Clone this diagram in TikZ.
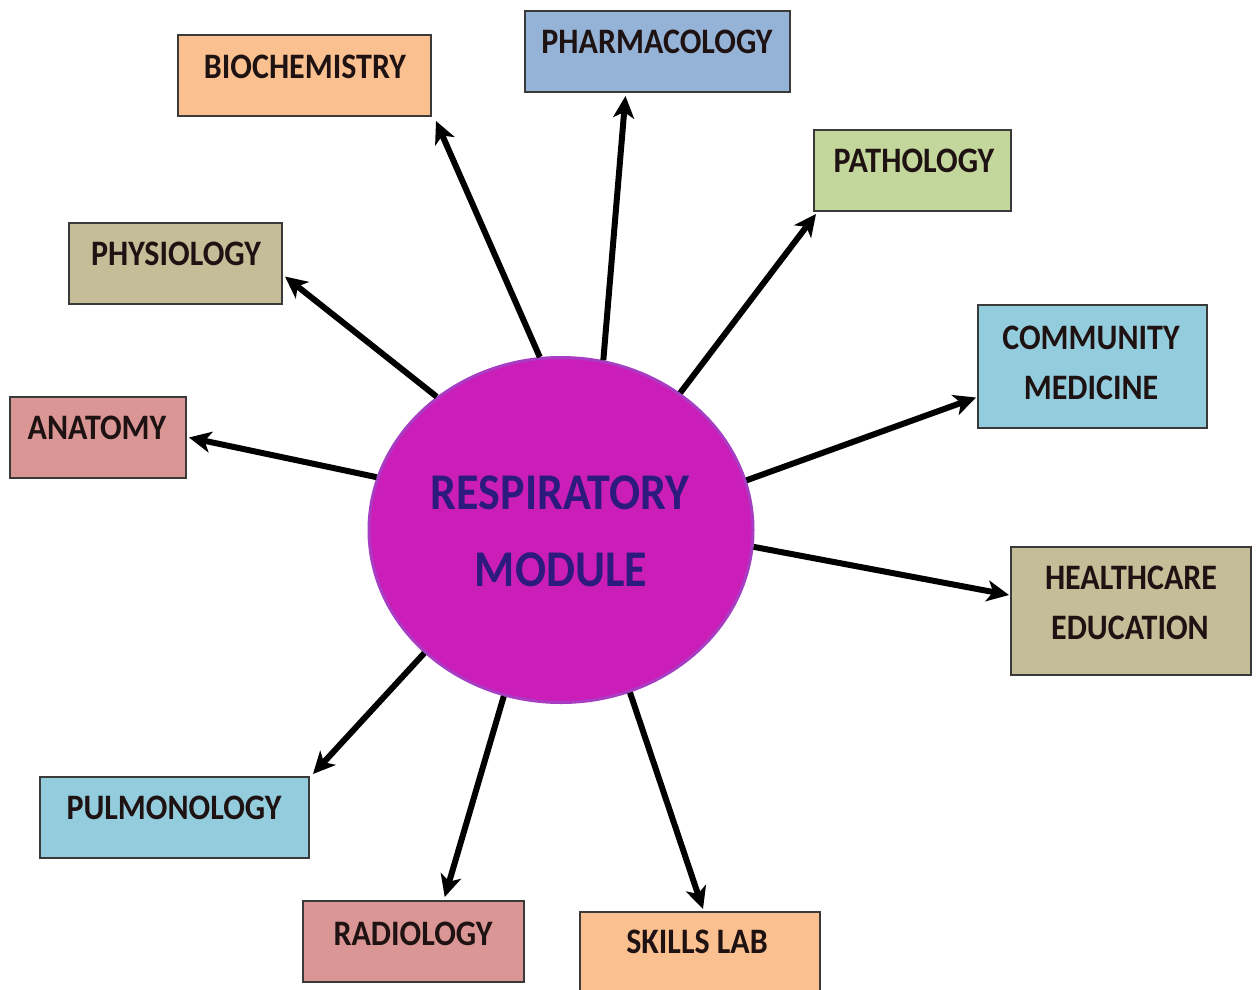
\documentclass[tikz,border=0pt]{standalone}
\usepackage{fontspec}
\setmainfont{Carlito}
\usetikzlibrary{shapes.geometric,arrows.meta,calc}
\definecolor{cOrange}{HTML}{FAC090}
\definecolor{cBlue}{HTML}{95B3D7}
\definecolor{cGreen}{HTML}{C3D69B}
\definecolor{cTan}{HTML}{C4BD97}
\definecolor{cCyan}{HTML}{93CDDD}
\definecolor{cRose}{HTML}{D99694}
\definecolor{cMag}{HTML}{CB1EB8}
\definecolor{cMagB}{HTML}{A83CC2}
\definecolor{cNavy}{HTML}{2C1A7C}
\definecolor{cTxt}{HTML}{1E1212}
\definecolor{cEdge}{HTML}{3A3A3A}
\newcommand{\tallt}[1]{\scalebox{1}[1.12]{#1}}
\tikzset{
  boxnode/.style={draw=cEdge, line width=2pt, rectangle, inner sep=0pt},
  lbl/.style={inner sep=0pt, text=cTxt, font=\fontsize{32}{38}\selectfont\bfseries},
  mlbl/.style={inner sep=0pt, text=cNavy, font=\fontsize{46}{54}\selectfont\bfseries},
  arr/.style={line width=6pt, -{Stealth[length=22pt,width=21pt,inset=6pt]}, draw=black}
}
\begin{document}
\begin{tikzpicture}[x=1pt,y=-1pt]
\clip (0,0) rectangle (1258,989);
\fill[white] (0,0) rectangle (1258,989);

% boxes
\node[boxnode, fill=cOrange, minimum width=253pt, minimum height=81pt] (bio) at (304.5,75.5) {};
\node[boxnode, fill=cBlue, minimum width=265pt, minimum height=81pt] (pha) at (657.5,51.5) {};
\node[boxnode, fill=cGreen, minimum width=197pt, minimum height=81pt] (pat) at (912.5,170.5) {};
\node[boxnode, fill=cTan, minimum width=213pt, minimum height=81pt] (phy) at (175.5,263.5) {};
\node[boxnode, fill=cCyan, minimum width=229pt, minimum height=123pt] (com) at (1092.5,366.5) {};
\node[boxnode, fill=cRose, minimum width=176pt, minimum height=81pt] (ana) at (98,437.5) {};
\node[boxnode, fill=cTan, minimum width=240pt, minimum height=128pt] (hea) at (1131,611) {};
\node[boxnode, fill=cCyan, minimum width=269pt, minimum height=81pt] (pul) at (174.5,817.5) {};
\node[boxnode, fill=cRose, minimum width=221pt, minimum height=81pt] (rad) at (413.5,941.5) {};
\node[boxnode, fill=cOrange, minimum width=240pt, minimum height=84pt] (ski) at (700,954) {};

% labels
\node[lbl] (biot) at (305,67) {\tallt{BIOCHEMISTRY}};
\node[lbl] (phat) at (657,42) {\tallt{PHARMACOLOGY}};
\node[lbl] (patt) at (914,161) {\tallt{PATHOLOGY}};
\node[lbl] (phyt) at (176,254) {\tallt{PHYSIOLOGY}};
\node[lbl] (comt1) at (1091,338) {\tallt{COMMUNITY}};
\node[lbl] (comt2) at (1091,388) {\tallt{MEDICINE}};
\node[lbl] (anat) at (97,428) {\tallt{ANATOMY}};
\node[lbl] (heat1) at (1131,578) {\tallt{HEALTHCARE}};
\node[lbl] (heat2) at (1130,628) {\tallt{EDUCATION}};
\node[lbl] (pult) at (174,808) {\tallt{PULMONOLOGY}};
\node[lbl] (radt) at (413,934) {\tallt{RADIOLOGY}};
\node[lbl] (skit) at (697,942) {\tallt{SKILLS LAB}};

% central ellipse
\node[ellipse, fill=cMag, draw=cMagB, line width=3pt, minimum width=384pt, minimum height=345pt, inner sep=0pt] (m) at (561,530) {};
\node[mlbl] (mt1) at (560,493) {\tallt{RESPIRATORY}};
\node[mlbl] (mt2) at (561,570) {\tallt{MODULE}};

% arrows
\draw[arr] (m.97.6) -- ($(bio.south east)+(4,4)$);
\draw[arr] (m.76) -- ($(pha.south west)!0.38!(pha.south east)+(0,3)$);
\draw[arr] (m.49.8) -- ($(pat.south west)+(3,2)$);
\draw[arr] (m.133.5) -- ($(phy.east)+(2,13)$);
\draw[arr] (m.15.2) -- ($(com.west)+(-1,31)$);
\draw[arr] (m.164.8) -- ($(ana.east)+(2,0)$);
\draw[arr] (m.-5.4) -- ($(hea.west)+(-1,-16)$);
\draw[arr] (m.222.2) -- ($(pul.north east)+(3,-2)$);
\draw[arr] (m.251.2) -- ($(rad.north west)!0.64!(rad.north east)+(0,-3)$);
\draw[arr] (m.293.8) -- ($(ski.north)+(3,-2)$);
\end{tikzpicture}
\end{document}
